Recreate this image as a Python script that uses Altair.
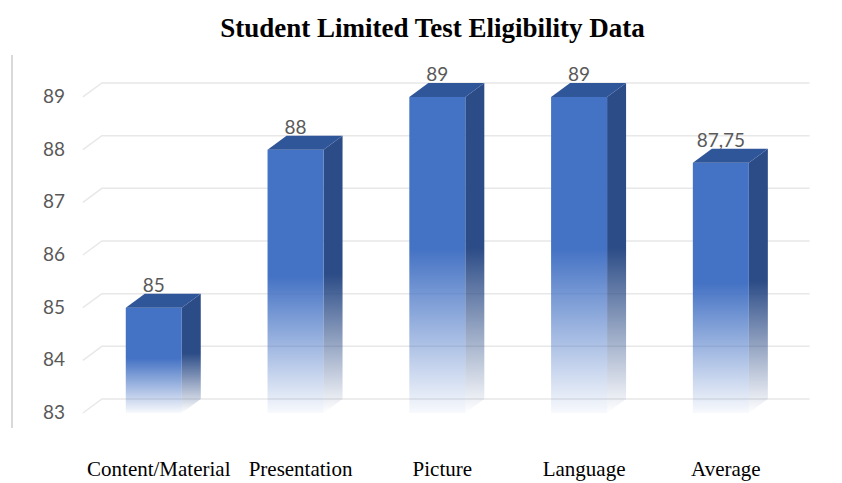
import altair as alt
import pandas as pd

# ---------------- data ----------------
categories = ["Content/Material", "Presentation", "Picture", "Language", "Average"]
values = [85, 88, 89, 89, 87.75]
value_labels = ["85", "88", "89", "89", "87,75"]
y_ticks = [83, 84, 85, 86, 87, 88, 89]
title_text = "Student Limited Test Eligibility Data"

# ---------------- geometry / style ----------------
BASE = 83.0
W, H = 801, 373
X_DOM = [-1.0, 4.65]
Y_DOM = [82.715, 89.797]
px_x = W / (X_DOM[1] - X_DOM[0])
px_y = H / (Y_DOM[1] - Y_DOM[0])
HW = 28 / px_x          # half width of the front face
DX = 19 / px_x          # depth offset (x)
DY = 14 / px_y          # depth offset (y)
GRID_X0 = -0.5
GRID_X1 = 4.626

idx = list(range(len(categories)))
bars = pd.DataFrame({"i": idx, "cat": categories, "v": values, "lab": value_labels})
bars["x0"] = bars["i"] - HW
bars["x1"] = bars["i"] + HW
bars["base"] = BASE
bars["ytop"] = bars["v"] + DY

side_rows, top_rows = [], []
for i, c, v in zip(idx, categories, values):
    side_rows.append({"cat": c, "x": i + HW, "top": v, "bot": BASE})
    side_rows.append({"cat": c, "x": i + HW + DX, "top": v + DY, "bot": BASE + DY})
    top_rows.append({"cat": c, "y": v, "xa": i - HW, "xb": i + HW})
    top_rows.append({"cat": c, "y": v + DY, "xa": i - HW + DX, "xb": i + HW + DX})
side = pd.DataFrame(side_rows)
topf = pd.DataFrame(top_rows)

grid_rows = []
for t in y_ticks:
    grid_rows.append({"t": t, "o": 0, "x": GRID_X0, "y": t})
    grid_rows.append({"t": t, "o": 1, "x": GRID_X0 + DX, "y": t + DY})
    grid_rows.append({"t": t, "o": 2, "x": GRID_X1, "y": t + DY})
grid = pd.DataFrame(grid_rows)
ticks = pd.DataFrame({"t": y_ticks, "lab": [str(t) for t in y_ticks]})

xs = alt.Scale(domain=X_DOM, nice=False, zero=False)
ys = alt.Scale(domain=Y_DOM, nice=False, zero=False)

front_grad = {
    "gradient": "linear", "x1": 0, "y1": 0, "x2": 0, "y2": 1,
    "stops": [
        {"offset": 0, "color": "rgba(68,114,196,1)"},
        {"offset": 0.48, "color": "rgba(68,114,196,1)"},
        {"offset": 1, "color": "rgba(68,114,196,0.04)"},
    ],
}
side_grad = {
    "gradient": "linear", "x1": 0, "y1": 0, "x2": 0, "y2": 1,
    "stops": [
        {"offset": 0, "color": "rgba(44,76,135,1)"},
        {"offset": 0.5, "color": "rgba(44,76,135,1)"},
        {"offset": 1, "color": "rgba(44,76,135,0)"},
    ],
}

gridlines = alt.Chart(grid).mark_line(color="#e8e8e8", strokeWidth=1.5).encode(
    x=alt.X("x:Q", scale=xs, axis=None),
    y=alt.Y("y:Q", scale=ys, axis=None),
    detail="t:N",
    order="o:Q",
)

left_line = alt.Chart(ticks).mark_rule(color="#d9d9d9", strokeWidth=2).encode(
    x=alt.value(0), y=alt.value(0), y2=alt.value(H)
)

tick_labels = alt.Chart(ticks).mark_text(
    align="right", baseline="middle", font="Lato", fontSize=19, color="#595959"
).encode(x=alt.value(53), y=alt.Y("t:Q", scale=ys), text="lab:N")

side_faces = alt.Chart(side).mark_area(orient="vertical", color=side_grad).encode(
    x=alt.X("x:Q", scale=xs),
    y=alt.Y("top:Q", scale=ys),
    y2="bot:Q",
    detail="cat:N",
)

front_faces = alt.Chart(bars).mark_bar(color=front_grad).encode(
    x=alt.X("x0:Q", scale=xs),
    x2="x1:Q",
    y=alt.Y("v:Q", scale=ys),
    y2="base:Q",
)

top_faces = alt.Chart(topf).mark_area(orient="horizontal", color="#30569a").encode(
    y=alt.Y("y:Q", scale=ys),
    x=alt.X("xa:Q", scale=xs),
    x2="xb:Q",
    detail="cat:N",
)

value_text = alt.Chart(bars).mark_text(
    align="center", baseline="alphabetic", dy=-2, font="Lato", fontSize=19, color="#595959"
).encode(x=alt.X("i:Q", scale=xs), y=alt.Y("ytop:Q", scale=ys), text="lab:N")

cat_text = alt.Chart(bars).mark_text(
    align="center", baseline="middle", dx=5, font="Liberation Serif", fontSize=21, color="#000000"
).encode(x=alt.X("i:Q", scale=xs), y=alt.value(H + 42), text="cat:N")

chart = alt.layer(
    gridlines, left_line, tick_labels, side_faces, front_faces, top_faces, value_text, cat_text
).properties(
    width=W,
    height=H,
    autosize=alt.AutoSizeParams(type="none"),
    padding={"left": 4, "top": 47, "right": 21, "bottom": 54},
    title=alt.TitleParams(
        text=title_text, font="Liberation Serif", fontSize=27, fontWeight="bold",
        color="#000000", anchor="middle", offset=11, dx=20,
    ),
).configure(background="white", view=alt.ViewConfig(stroke="transparent", strokeWidth=0))

chart.save("out.html", embed_options={"renderer": "svg", "actions": False})
